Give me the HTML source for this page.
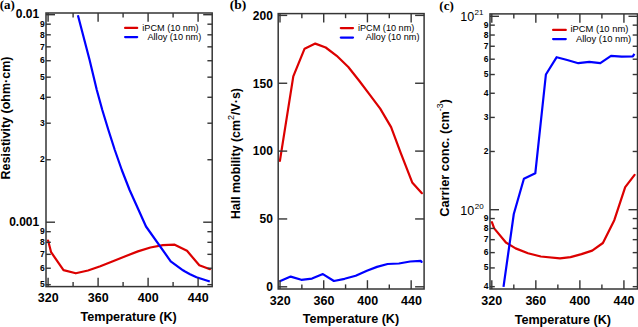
<!DOCTYPE html>
<html><head><meta charset="utf-8"><style>
html,body{margin:0;padding:0;background:#fff;width:638px;height:327px;overflow:hidden}
svg{display:block}
</style></head><body>
<svg width="638" height="327" viewBox="0 0 638 327">
<rect width="638" height="327" fill="#fff"/>
<polyline points="48.10,240.50 51.10,252.20 63.50,270.10 75.80,273.30 88.00,270.50 100.30,266.20 112.90,261.30 125.40,256.20 137.90,251.40 150.40,247.50 162.90,245.20 174.70,244.70 187.00,250.80 199.30,265.30 210.00,269.20" fill="none" stroke="#dc0000" stroke-width="2.2" stroke-linejoin="round" stroke-linecap="round"/>
<polyline points="77.90,15.20 89.60,60.00 96.80,90.00 102.30,110.00 108.40,130.00 114.80,150.00 121.80,170.00 129.60,190.00 138.60,210.00 146.00,226.50 170.70,261.30 183.00,270.30 184.60,271.30 190.00,274.20 196.50,277.20 209.80,281.50" fill="none" stroke="#0000ff" stroke-width="2.2" stroke-linejoin="round" stroke-linecap="butt"/>
<rect x="46.00" y="13.00" width="166.20" height="273.60" fill="none" stroke="#353535" stroke-width="1.5"/>
<line x1="48.10" y1="286.60" x2="48.10" y2="277.80" stroke="#353535" stroke-width="1.4" stroke-linecap="butt"/>
<line x1="48.10" y1="13.00" x2="48.10" y2="21.80" stroke="#353535" stroke-width="1.4" stroke-linecap="butt"/>
<line x1="98.10" y1="286.60" x2="98.10" y2="277.80" stroke="#353535" stroke-width="1.4" stroke-linecap="butt"/>
<line x1="98.10" y1="13.00" x2="98.10" y2="21.80" stroke="#353535" stroke-width="1.4" stroke-linecap="butt"/>
<line x1="148.10" y1="286.60" x2="148.10" y2="277.80" stroke="#353535" stroke-width="1.4" stroke-linecap="butt"/>
<line x1="148.10" y1="13.00" x2="148.10" y2="21.80" stroke="#353535" stroke-width="1.4" stroke-linecap="butt"/>
<line x1="198.10" y1="286.60" x2="198.10" y2="277.80" stroke="#353535" stroke-width="1.4" stroke-linecap="butt"/>
<line x1="198.10" y1="13.00" x2="198.10" y2="21.80" stroke="#353535" stroke-width="1.4" stroke-linecap="butt"/>
<line x1="73.10" y1="286.60" x2="73.10" y2="282.00" stroke="#353535" stroke-width="1.4" stroke-linecap="butt"/>
<line x1="73.10" y1="13.00" x2="73.10" y2="17.60" stroke="#353535" stroke-width="1.4" stroke-linecap="butt"/>
<line x1="123.10" y1="286.60" x2="123.10" y2="282.00" stroke="#353535" stroke-width="1.4" stroke-linecap="butt"/>
<line x1="123.10" y1="13.00" x2="123.10" y2="17.60" stroke="#353535" stroke-width="1.4" stroke-linecap="butt"/>
<line x1="173.10" y1="286.60" x2="173.10" y2="282.00" stroke="#353535" stroke-width="1.4" stroke-linecap="butt"/>
<line x1="173.10" y1="13.00" x2="173.10" y2="17.60" stroke="#353535" stroke-width="1.4" stroke-linecap="butt"/>
<line x1="46.00" y1="14.70" x2="55.00" y2="14.70" stroke="#353535" stroke-width="1.4" stroke-linecap="butt"/>
<line x1="212.20" y1="14.70" x2="203.20" y2="14.70" stroke="#353535" stroke-width="1.4" stroke-linecap="butt"/>
<line x1="46.00" y1="222.20" x2="55.00" y2="222.20" stroke="#353535" stroke-width="1.4" stroke-linecap="butt"/>
<line x1="212.20" y1="222.20" x2="203.20" y2="222.20" stroke="#353535" stroke-width="1.4" stroke-linecap="butt"/>
<line x1="46.00" y1="159.74" x2="50.80" y2="159.74" stroke="#353535" stroke-width="1.4" stroke-linecap="butt"/>
<line x1="212.20" y1="159.74" x2="207.40" y2="159.74" stroke="#353535" stroke-width="1.4" stroke-linecap="butt"/>
<line x1="46.00" y1="123.20" x2="50.80" y2="123.20" stroke="#353535" stroke-width="1.4" stroke-linecap="butt"/>
<line x1="212.20" y1="123.20" x2="207.40" y2="123.20" stroke="#353535" stroke-width="1.4" stroke-linecap="butt"/>
<line x1="46.00" y1="97.27" x2="50.80" y2="97.27" stroke="#353535" stroke-width="1.4" stroke-linecap="butt"/>
<line x1="212.20" y1="97.27" x2="207.40" y2="97.27" stroke="#353535" stroke-width="1.4" stroke-linecap="butt"/>
<line x1="46.00" y1="77.16" x2="50.80" y2="77.16" stroke="#353535" stroke-width="1.4" stroke-linecap="butt"/>
<line x1="212.20" y1="77.16" x2="207.40" y2="77.16" stroke="#353535" stroke-width="1.4" stroke-linecap="butt"/>
<line x1="46.00" y1="60.73" x2="50.80" y2="60.73" stroke="#353535" stroke-width="1.4" stroke-linecap="butt"/>
<line x1="212.20" y1="60.73" x2="207.40" y2="60.73" stroke="#353535" stroke-width="1.4" stroke-linecap="butt"/>
<line x1="46.00" y1="46.84" x2="50.80" y2="46.84" stroke="#353535" stroke-width="1.4" stroke-linecap="butt"/>
<line x1="212.20" y1="46.84" x2="207.40" y2="46.84" stroke="#353535" stroke-width="1.4" stroke-linecap="butt"/>
<line x1="46.00" y1="34.81" x2="50.80" y2="34.81" stroke="#353535" stroke-width="1.4" stroke-linecap="butt"/>
<line x1="212.20" y1="34.81" x2="207.40" y2="34.81" stroke="#353535" stroke-width="1.4" stroke-linecap="butt"/>
<line x1="46.00" y1="24.19" x2="50.80" y2="24.19" stroke="#353535" stroke-width="1.4" stroke-linecap="butt"/>
<line x1="212.20" y1="24.19" x2="207.40" y2="24.19" stroke="#353535" stroke-width="1.4" stroke-linecap="butt"/>
<line x1="46.00" y1="284.66" x2="50.80" y2="284.66" stroke="#353535" stroke-width="1.4" stroke-linecap="butt"/>
<line x1="212.20" y1="284.66" x2="207.40" y2="284.66" stroke="#353535" stroke-width="1.4" stroke-linecap="butt"/>
<line x1="46.00" y1="268.23" x2="50.80" y2="268.23" stroke="#353535" stroke-width="1.4" stroke-linecap="butt"/>
<line x1="212.20" y1="268.23" x2="207.40" y2="268.23" stroke="#353535" stroke-width="1.4" stroke-linecap="butt"/>
<line x1="46.00" y1="254.34" x2="50.80" y2="254.34" stroke="#353535" stroke-width="1.4" stroke-linecap="butt"/>
<line x1="212.20" y1="254.34" x2="207.40" y2="254.34" stroke="#353535" stroke-width="1.4" stroke-linecap="butt"/>
<line x1="46.00" y1="242.31" x2="50.80" y2="242.31" stroke="#353535" stroke-width="1.4" stroke-linecap="butt"/>
<line x1="212.20" y1="242.31" x2="207.40" y2="242.31" stroke="#353535" stroke-width="1.4" stroke-linecap="butt"/>
<line x1="46.00" y1="231.69" x2="50.80" y2="231.69" stroke="#353535" stroke-width="1.4" stroke-linecap="butt"/>
<line x1="212.20" y1="231.69" x2="207.40" y2="231.69" stroke="#353535" stroke-width="1.4" stroke-linecap="butt"/>
<text x="39.20" y="18.30" style="font-family:'Liberation Sans';font-size:12px;font-weight:bold" text-anchor="end" >0.01</text>
<text x="39.20" y="226.10" style="font-family:'Liberation Sans';font-size:12px;font-weight:bold" text-anchor="end" >0.001</text>
<text x="44.80" y="162.44" style="font-family:'Liberation Sans';font-size:8.5px;font-weight:bold" text-anchor="end" >2</text>
<text x="44.80" y="125.90" style="font-family:'Liberation Sans';font-size:8.5px;font-weight:bold" text-anchor="end" >3</text>
<text x="44.80" y="99.97" style="font-family:'Liberation Sans';font-size:8.5px;font-weight:bold" text-anchor="end" >4</text>
<text x="44.80" y="79.86" style="font-family:'Liberation Sans';font-size:8.5px;font-weight:bold" text-anchor="end" >5</text>
<text x="44.80" y="63.43" style="font-family:'Liberation Sans';font-size:8.5px;font-weight:bold" text-anchor="end" >6</text>
<text x="44.80" y="49.54" style="font-family:'Liberation Sans';font-size:8.5px;font-weight:bold" text-anchor="end" >7</text>
<text x="44.80" y="37.51" style="font-family:'Liberation Sans';font-size:8.5px;font-weight:bold" text-anchor="end" >8</text>
<text x="44.80" y="26.89" style="font-family:'Liberation Sans';font-size:8.5px;font-weight:bold" text-anchor="end" >9</text>
<text x="44.80" y="287.36" style="font-family:'Liberation Sans';font-size:8.5px;font-weight:bold" text-anchor="end" >5</text>
<text x="44.80" y="270.93" style="font-family:'Liberation Sans';font-size:8.5px;font-weight:bold" text-anchor="end" >6</text>
<text x="44.80" y="257.04" style="font-family:'Liberation Sans';font-size:8.5px;font-weight:bold" text-anchor="end" >7</text>
<text x="44.80" y="245.01" style="font-family:'Liberation Sans';font-size:8.5px;font-weight:bold" text-anchor="end" >8</text>
<text x="44.80" y="234.39" style="font-family:'Liberation Sans';font-size:8.5px;font-weight:bold" text-anchor="end" >9</text>
<text x="48.20" y="302.00" style="font-family:'Liberation Sans';font-size:12.5px;font-weight:bold" text-anchor="middle" >320</text>
<text x="98.20" y="302.00" style="font-family:'Liberation Sans';font-size:12.5px;font-weight:bold" text-anchor="middle" >360</text>
<text x="148.20" y="302.00" style="font-family:'Liberation Sans';font-size:12.5px;font-weight:bold" text-anchor="middle" >400</text>
<text x="198.20" y="302.00" style="font-family:'Liberation Sans';font-size:12.5px;font-weight:bold" text-anchor="middle" >440</text>
<text x="128.60" y="320.70" style="font-family:'Liberation Sans';font-size:12.6px;font-weight:bold" text-anchor="middle" >Temperature (K)</text>
<text x="9.90" y="118.00" style="font-family:'Liberation Sans';font-size:12.5px;font-weight:bold" text-anchor="middle" transform="rotate(-90 9.9 118)">Resistivity (ohm&#183;cm)</text>
<text x="-0.30" y="8.70" style="font-family:'Liberation Serif';font-size:13px;font-weight:bold" text-anchor="start" >(a)</text>
<line x1="125.10" y1="27.90" x2="137.20" y2="27.90" stroke="#dc0000" stroke-width="2.2" stroke-linecap="round"/>
<line x1="125.10" y1="37.10" x2="137.20" y2="37.10" stroke="#0000ff" stroke-width="2.2" stroke-linecap="round"/>
<text x="142.30" y="30.70" style="font-family:'Liberation Sans';font-size:9.15px;font-weight:normal" text-anchor="start" >iPCM (10 nm)</text>
<text x="147.50" y="39.80" style="font-family:'Liberation Sans';font-size:9.15px;font-weight:normal" text-anchor="start" >Alloy (10 nm)</text>
<polyline points="279.90,160.90 293.30,76.30 304.60,48.70 315.30,43.60 325.70,47.50 336.70,55.80 348.30,67.00 359.00,80.50 369.10,93.90 380.20,108.60 391.10,127.10 400.70,152.80 412.20,182.40 421.90,193.20" fill="none" stroke="#dc0000" stroke-width="2.2" stroke-linejoin="round" stroke-linecap="round"/>
<polyline points="280.30,281.10 290.70,276.60 301.30,279.80 312.00,278.60 322.90,274.10 333.90,281.00 344.60,278.80 355.70,275.70 366.90,270.70 377.00,266.90 387.60,264.00 398.90,263.50 410.20,261.50 420.60,260.90 421.60,261.90" fill="none" stroke="#0000ff" stroke-width="2.2" stroke-linejoin="round" stroke-linecap="round"/>
<rect x="278.20" y="13.60" width="145.90" height="275.40" fill="none" stroke="#353535" stroke-width="1.5"/>
<line x1="280.00" y1="289.00" x2="280.00" y2="280.20" stroke="#353535" stroke-width="1.4" stroke-linecap="butt"/>
<line x1="280.00" y1="13.60" x2="280.00" y2="22.40" stroke="#353535" stroke-width="1.4" stroke-linecap="butt"/>
<line x1="323.72" y1="289.00" x2="323.72" y2="280.20" stroke="#353535" stroke-width="1.4" stroke-linecap="butt"/>
<line x1="323.72" y1="13.60" x2="323.72" y2="22.40" stroke="#353535" stroke-width="1.4" stroke-linecap="butt"/>
<line x1="367.44" y1="289.00" x2="367.44" y2="280.20" stroke="#353535" stroke-width="1.4" stroke-linecap="butt"/>
<line x1="367.44" y1="13.60" x2="367.44" y2="22.40" stroke="#353535" stroke-width="1.4" stroke-linecap="butt"/>
<line x1="411.16" y1="289.00" x2="411.16" y2="280.20" stroke="#353535" stroke-width="1.4" stroke-linecap="butt"/>
<line x1="411.16" y1="13.60" x2="411.16" y2="22.40" stroke="#353535" stroke-width="1.4" stroke-linecap="butt"/>
<line x1="301.86" y1="289.00" x2="301.86" y2="284.40" stroke="#353535" stroke-width="1.4" stroke-linecap="butt"/>
<line x1="301.86" y1="13.60" x2="301.86" y2="18.20" stroke="#353535" stroke-width="1.4" stroke-linecap="butt"/>
<line x1="345.58" y1="289.00" x2="345.58" y2="284.40" stroke="#353535" stroke-width="1.4" stroke-linecap="butt"/>
<line x1="345.58" y1="13.60" x2="345.58" y2="18.20" stroke="#353535" stroke-width="1.4" stroke-linecap="butt"/>
<line x1="389.30" y1="289.00" x2="389.30" y2="284.40" stroke="#353535" stroke-width="1.4" stroke-linecap="butt"/>
<line x1="389.30" y1="13.60" x2="389.30" y2="18.20" stroke="#353535" stroke-width="1.4" stroke-linecap="butt"/>
<line x1="278.20" y1="286.80" x2="287.20" y2="286.80" stroke="#353535" stroke-width="1.4" stroke-linecap="butt"/>
<line x1="424.10" y1="286.80" x2="415.10" y2="286.80" stroke="#353535" stroke-width="1.4" stroke-linecap="butt"/>
<line x1="278.20" y1="218.95" x2="287.20" y2="218.95" stroke="#353535" stroke-width="1.4" stroke-linecap="butt"/>
<line x1="424.10" y1="218.95" x2="415.10" y2="218.95" stroke="#353535" stroke-width="1.4" stroke-linecap="butt"/>
<line x1="278.20" y1="151.10" x2="287.20" y2="151.10" stroke="#353535" stroke-width="1.4" stroke-linecap="butt"/>
<line x1="424.10" y1="151.10" x2="415.10" y2="151.10" stroke="#353535" stroke-width="1.4" stroke-linecap="butt"/>
<line x1="278.20" y1="83.25" x2="287.20" y2="83.25" stroke="#353535" stroke-width="1.4" stroke-linecap="butt"/>
<line x1="424.10" y1="83.25" x2="415.10" y2="83.25" stroke="#353535" stroke-width="1.4" stroke-linecap="butt"/>
<line x1="278.20" y1="15.40" x2="287.20" y2="15.40" stroke="#353535" stroke-width="1.4" stroke-linecap="butt"/>
<line x1="424.10" y1="15.40" x2="415.10" y2="15.40" stroke="#353535" stroke-width="1.4" stroke-linecap="butt"/>
<text x="272.90" y="291.10" style="font-family:'Liberation Sans';font-size:12px;font-weight:bold" text-anchor="end" >0</text>
<text x="272.90" y="223.25" style="font-family:'Liberation Sans';font-size:12px;font-weight:bold" text-anchor="end" >50</text>
<text x="272.90" y="155.40" style="font-family:'Liberation Sans';font-size:12px;font-weight:bold" text-anchor="end" >100</text>
<text x="272.90" y="87.55" style="font-family:'Liberation Sans';font-size:12px;font-weight:bold" text-anchor="end" >150</text>
<text x="272.90" y="19.70" style="font-family:'Liberation Sans';font-size:12px;font-weight:bold" text-anchor="end" >200</text>
<text x="280.30" y="304.90" style="font-family:'Liberation Sans';font-size:12.5px;font-weight:bold" text-anchor="middle" >320</text>
<text x="324.02" y="304.90" style="font-family:'Liberation Sans';font-size:12.5px;font-weight:bold" text-anchor="middle" >360</text>
<text x="367.74" y="304.90" style="font-family:'Liberation Sans';font-size:12.5px;font-weight:bold" text-anchor="middle" >400</text>
<text x="411.46" y="304.90" style="font-family:'Liberation Sans';font-size:12.5px;font-weight:bold" text-anchor="middle" >440</text>
<text x="351.00" y="323.30" style="font-family:'Liberation Sans';font-size:12.6px;font-weight:bold" text-anchor="middle" >Temperature (K)</text>
<text x="240.00" y="153.60" style="font-family:'Liberation Sans';font-size:12.4px;font-weight:bold" text-anchor="middle" transform="rotate(-90 240 153.6)">Hall mobility (cm<tspan style="font-size:9px;font-weight:normal" dy="-6">2</tspan><tspan dy="6">/V&#183;s)</tspan></text>
<text x="229.70" y="9.40" style="font-family:'Liberation Serif';font-size:13.5px;font-weight:bold" text-anchor="start" >(b)</text>
<line x1="340.80" y1="28.10" x2="353.00" y2="28.10" stroke="#dc0000" stroke-width="2.2" stroke-linecap="round"/>
<line x1="340.80" y1="37.60" x2="353.00" y2="37.60" stroke="#0000ff" stroke-width="2.2" stroke-linecap="round"/>
<text x="358.00" y="30.60" style="font-family:'Liberation Sans';font-size:9.15px;font-weight:normal" text-anchor="start" >iPCM (10 nm)</text>
<text x="365.70" y="40.30" style="font-family:'Liberation Sans';font-size:9.15px;font-weight:normal" text-anchor="start" >Alloy (10 nm)</text>
<polyline points="491.90,222.20 494.20,228.40 505.90,242.50 515.60,248.40 528.00,253.20 540.80,256.50 560.00,258.30 570.50,257.10 581.50,254.10 592.20,250.60 602.90,243.00 614.30,220.20 625.20,187.20 634.60,174.90" fill="none" stroke="#dc0000" stroke-width="2.2" stroke-linejoin="round" stroke-linecap="round"/>
<polyline points="503.50,286.80 513.80,214.00 523.90,178.80 535.30,173.30 545.90,74.50 556.70,57.20 567.20,60.00 578.30,63.20 589.30,61.80 600.30,63.20 611.00,55.90 621.70,56.60 632.80,56.30 634.40,53.80" fill="none" stroke="#0000ff" stroke-width="2.2" stroke-linejoin="round" stroke-linecap="butt"/>
<rect x="490.00" y="13.90" width="147.50" height="275.10" fill="none" stroke="#353535" stroke-width="1.5"/>
<line x1="491.80" y1="289.00" x2="491.80" y2="280.20" stroke="#353535" stroke-width="1.4" stroke-linecap="butt"/>
<line x1="491.80" y1="13.90" x2="491.80" y2="22.70" stroke="#353535" stroke-width="1.4" stroke-linecap="butt"/>
<line x1="535.84" y1="289.00" x2="535.84" y2="280.20" stroke="#353535" stroke-width="1.4" stroke-linecap="butt"/>
<line x1="535.84" y1="13.90" x2="535.84" y2="22.70" stroke="#353535" stroke-width="1.4" stroke-linecap="butt"/>
<line x1="579.88" y1="289.00" x2="579.88" y2="280.20" stroke="#353535" stroke-width="1.4" stroke-linecap="butt"/>
<line x1="579.88" y1="13.90" x2="579.88" y2="22.70" stroke="#353535" stroke-width="1.4" stroke-linecap="butt"/>
<line x1="623.92" y1="289.00" x2="623.92" y2="280.20" stroke="#353535" stroke-width="1.4" stroke-linecap="butt"/>
<line x1="623.92" y1="13.90" x2="623.92" y2="22.70" stroke="#353535" stroke-width="1.4" stroke-linecap="butt"/>
<line x1="513.82" y1="289.00" x2="513.82" y2="284.40" stroke="#353535" stroke-width="1.4" stroke-linecap="butt"/>
<line x1="513.82" y1="13.90" x2="513.82" y2="18.50" stroke="#353535" stroke-width="1.4" stroke-linecap="butt"/>
<line x1="557.86" y1="289.00" x2="557.86" y2="284.40" stroke="#353535" stroke-width="1.4" stroke-linecap="butt"/>
<line x1="557.86" y1="13.90" x2="557.86" y2="18.50" stroke="#353535" stroke-width="1.4" stroke-linecap="butt"/>
<line x1="601.90" y1="289.00" x2="601.90" y2="284.40" stroke="#353535" stroke-width="1.4" stroke-linecap="butt"/>
<line x1="601.90" y1="13.90" x2="601.90" y2="18.50" stroke="#353535" stroke-width="1.4" stroke-linecap="butt"/>
<line x1="490.00" y1="16.30" x2="499.00" y2="16.30" stroke="#353535" stroke-width="1.4" stroke-linecap="butt"/>
<line x1="637.50" y1="16.30" x2="628.50" y2="16.30" stroke="#353535" stroke-width="1.4" stroke-linecap="butt"/>
<line x1="490.00" y1="209.70" x2="499.00" y2="209.70" stroke="#353535" stroke-width="1.4" stroke-linecap="butt"/>
<line x1="637.50" y1="209.70" x2="628.50" y2="209.70" stroke="#353535" stroke-width="1.4" stroke-linecap="butt"/>
<line x1="490.00" y1="151.48" x2="494.80" y2="151.48" stroke="#353535" stroke-width="1.4" stroke-linecap="butt"/>
<line x1="637.50" y1="151.48" x2="632.70" y2="151.48" stroke="#353535" stroke-width="1.4" stroke-linecap="butt"/>
<line x1="490.00" y1="117.42" x2="494.80" y2="117.42" stroke="#353535" stroke-width="1.4" stroke-linecap="butt"/>
<line x1="637.50" y1="117.42" x2="632.70" y2="117.42" stroke="#353535" stroke-width="1.4" stroke-linecap="butt"/>
<line x1="490.00" y1="93.26" x2="494.80" y2="93.26" stroke="#353535" stroke-width="1.4" stroke-linecap="butt"/>
<line x1="637.50" y1="93.26" x2="632.70" y2="93.26" stroke="#353535" stroke-width="1.4" stroke-linecap="butt"/>
<line x1="490.00" y1="74.52" x2="494.80" y2="74.52" stroke="#353535" stroke-width="1.4" stroke-linecap="butt"/>
<line x1="637.50" y1="74.52" x2="632.70" y2="74.52" stroke="#353535" stroke-width="1.4" stroke-linecap="butt"/>
<line x1="490.00" y1="59.21" x2="494.80" y2="59.21" stroke="#353535" stroke-width="1.4" stroke-linecap="butt"/>
<line x1="637.50" y1="59.21" x2="632.70" y2="59.21" stroke="#353535" stroke-width="1.4" stroke-linecap="butt"/>
<line x1="490.00" y1="46.26" x2="494.80" y2="46.26" stroke="#353535" stroke-width="1.4" stroke-linecap="butt"/>
<line x1="637.50" y1="46.26" x2="632.70" y2="46.26" stroke="#353535" stroke-width="1.4" stroke-linecap="butt"/>
<line x1="490.00" y1="35.04" x2="494.80" y2="35.04" stroke="#353535" stroke-width="1.4" stroke-linecap="butt"/>
<line x1="637.50" y1="35.04" x2="632.70" y2="35.04" stroke="#353535" stroke-width="1.4" stroke-linecap="butt"/>
<line x1="490.00" y1="25.15" x2="494.80" y2="25.15" stroke="#353535" stroke-width="1.4" stroke-linecap="butt"/>
<line x1="637.50" y1="25.15" x2="632.70" y2="25.15" stroke="#353535" stroke-width="1.4" stroke-linecap="butt"/>
<line x1="490.00" y1="286.66" x2="494.80" y2="286.66" stroke="#353535" stroke-width="1.4" stroke-linecap="butt"/>
<line x1="637.50" y1="286.66" x2="632.70" y2="286.66" stroke="#353535" stroke-width="1.4" stroke-linecap="butt"/>
<line x1="490.00" y1="267.92" x2="494.80" y2="267.92" stroke="#353535" stroke-width="1.4" stroke-linecap="butt"/>
<line x1="637.50" y1="267.92" x2="632.70" y2="267.92" stroke="#353535" stroke-width="1.4" stroke-linecap="butt"/>
<line x1="490.00" y1="252.61" x2="494.80" y2="252.61" stroke="#353535" stroke-width="1.4" stroke-linecap="butt"/>
<line x1="637.50" y1="252.61" x2="632.70" y2="252.61" stroke="#353535" stroke-width="1.4" stroke-linecap="butt"/>
<line x1="490.00" y1="239.66" x2="494.80" y2="239.66" stroke="#353535" stroke-width="1.4" stroke-linecap="butt"/>
<line x1="637.50" y1="239.66" x2="632.70" y2="239.66" stroke="#353535" stroke-width="1.4" stroke-linecap="butt"/>
<line x1="490.00" y1="228.44" x2="494.80" y2="228.44" stroke="#353535" stroke-width="1.4" stroke-linecap="butt"/>
<line x1="637.50" y1="228.44" x2="632.70" y2="228.44" stroke="#353535" stroke-width="1.4" stroke-linecap="butt"/>
<line x1="490.00" y1="218.55" x2="494.80" y2="218.55" stroke="#353535" stroke-width="1.4" stroke-linecap="butt"/>
<line x1="637.50" y1="218.55" x2="632.70" y2="218.55" stroke="#353535" stroke-width="1.4" stroke-linecap="butt"/>
<text x="474.20" y="21.40" style="font-family:'Liberation Sans';font-size:12.5px;font-weight:normal" text-anchor="end" >10</text>
<text x="474.60" y="15.00" style="font-family:'Liberation Sans';font-size:8px;font-weight:normal" text-anchor="start" >21</text>
<text x="474.20" y="214.80" style="font-family:'Liberation Sans';font-size:12.5px;font-weight:normal" text-anchor="end" >10</text>
<text x="474.80" y="208.80" style="font-family:'Liberation Sans';font-size:8px;font-weight:normal" text-anchor="start" >20</text>
<text x="488.40" y="153.98" style="font-family:'Liberation Sans';font-size:8.5px;font-weight:bold" text-anchor="end" >2</text>
<text x="488.40" y="119.92" style="font-family:'Liberation Sans';font-size:8.5px;font-weight:bold" text-anchor="end" >3</text>
<text x="488.40" y="95.76" style="font-family:'Liberation Sans';font-size:8.5px;font-weight:bold" text-anchor="end" >4</text>
<text x="488.40" y="77.02" style="font-family:'Liberation Sans';font-size:8.5px;font-weight:bold" text-anchor="end" >5</text>
<text x="488.40" y="61.71" style="font-family:'Liberation Sans';font-size:8.5px;font-weight:bold" text-anchor="end" >6</text>
<text x="488.40" y="48.76" style="font-family:'Liberation Sans';font-size:8.5px;font-weight:bold" text-anchor="end" >7</text>
<text x="488.40" y="37.54" style="font-family:'Liberation Sans';font-size:8.5px;font-weight:bold" text-anchor="end" >8</text>
<text x="488.40" y="27.65" style="font-family:'Liberation Sans';font-size:8.5px;font-weight:bold" text-anchor="end" >9</text>
<text x="488.40" y="289.16" style="font-family:'Liberation Sans';font-size:8.5px;font-weight:bold" text-anchor="end" >4</text>
<text x="488.40" y="270.42" style="font-family:'Liberation Sans';font-size:8.5px;font-weight:bold" text-anchor="end" >5</text>
<text x="488.40" y="255.11" style="font-family:'Liberation Sans';font-size:8.5px;font-weight:bold" text-anchor="end" >6</text>
<text x="488.40" y="242.16" style="font-family:'Liberation Sans';font-size:8.5px;font-weight:bold" text-anchor="end" >7</text>
<text x="488.40" y="230.94" style="font-family:'Liberation Sans';font-size:8.5px;font-weight:bold" text-anchor="end" >8</text>
<text x="488.40" y="221.05" style="font-family:'Liberation Sans';font-size:8.5px;font-weight:bold" text-anchor="end" >9</text>
<text x="491.80" y="304.60" style="font-family:'Liberation Sans';font-size:12.5px;font-weight:bold" text-anchor="middle" >320</text>
<text x="535.84" y="304.60" style="font-family:'Liberation Sans';font-size:12.5px;font-weight:bold" text-anchor="middle" >360</text>
<text x="579.88" y="304.60" style="font-family:'Liberation Sans';font-size:12.5px;font-weight:bold" text-anchor="middle" >400</text>
<text x="623.92" y="304.60" style="font-family:'Liberation Sans';font-size:12.5px;font-weight:bold" text-anchor="middle" >440</text>
<text x="562.80" y="324.00" style="font-family:'Liberation Sans';font-size:12.6px;font-weight:bold" text-anchor="middle" >Temperature (K)</text>
<text x="449.30" y="158.00" style="font-family:'Liberation Sans';font-size:12.85px;font-weight:bold" text-anchor="middle" transform="rotate(-90 449.3 158)">Carrier conc. (cm<tspan style="font-size:8.7px;font-weight:normal" dy="-6">-3</tspan><tspan dy="6">)</tspan></text>
<text x="439.30" y="9.60" style="font-family:'Liberation Serif';font-size:13px;font-weight:bold" text-anchor="start" >(c)</text>
<line x1="553.10" y1="29.90" x2="565.80" y2="29.90" stroke="#dc0000" stroke-width="2.2" stroke-linecap="round"/>
<line x1="553.10" y1="39.10" x2="565.80" y2="39.10" stroke="#0000ff" stroke-width="2.2" stroke-linecap="round"/>
<text x="570.50" y="32.20" style="font-family:'Liberation Sans';font-size:9.4px;font-weight:normal" text-anchor="start" >iPCM (10 nm)</text>
<text x="575.90" y="41.70" style="font-family:'Liberation Sans';font-size:9.4px;font-weight:normal" text-anchor="start" >Alloy (10 nm)</text>
</svg>
</body></html>
